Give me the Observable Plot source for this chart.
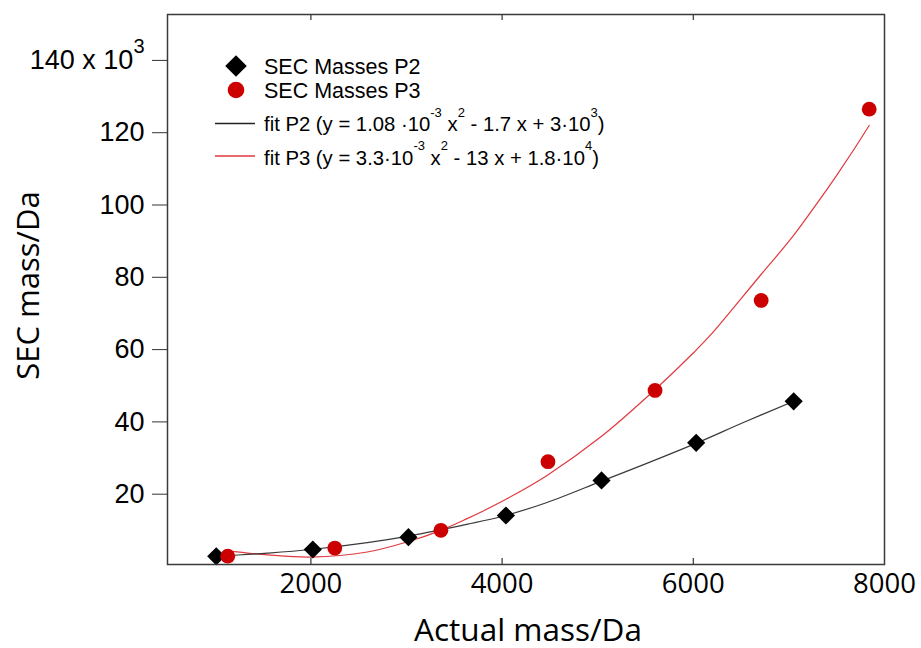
<!DOCTYPE html>
<html><head><meta charset="utf-8">
<script src="https://cdn.jsdelivr.net/npm/d3@7"></script>
<script src="https://cdn.jsdelivr.net/npm/@observablehq/plot@0.6"></script>
<style>
html,body{margin:0;padding:0;background:#fff;}
#chart{position:relative;width:921px;height:648px;}
</style></head><body><div id="chart"></div>
<script>
// SEC masses (Da)
const p2Mass = [1010, 2020, 3020, 4040, 5040, 6030, 7050];
const p2Sec  = [2800, 4700, 8100, 14100, 23800, 34200, 45700];
const p3Mass = [1130, 2250, 3360, 4480, 5600, 6710, 7840];
const p3Sec  = [2850, 5100, 10000, 29000, 48700, 73600, 126500];
// fitted curves
const fitP2Mass = [1005, 1546, 2000, 2590, 3020, 3640, 4005, 4470, 5040, 5520, 6040, 6530, 7050];
const fitP2Sec  = [2800, 3700, 4700, 6600, 8400, 11700, 13900, 17700, 23600, 28600, 34200, 39900, 45700];
const fitP3Mass = [1110, 1550, 2000, 2590, 3020, 3360, 3640, 3775, 4055, 4470, 5030, 5590, 6005, 6200, 6700, 7020, 7260, 7505, 7840];
const fitP3Sec  = [4400, 3200, 2600, 4000, 6900, 10000, 13300, 15000, 18800, 25200, 35800, 48700, 59200, 64600, 80500, 90600, 99200, 108400, 122000];
const xTicks = [2000, 4000, 6000, 8000];
const yTicks = [20000, 40000, 60000, 80000, 100000, 120000, 140000];
const legendLabels = ["SEC Masses P2", "SEC Masses P3"];
const fitLabels = [
  [["fit P2 (y = 1.08 ·10", 0], ["-3", 1], [" x", 0], ["2", 1], [" - 1.7 x + 3·10", 0], ["3", 1], [")", 0]],
  [["fit P3 (y = 3.3·10", 0], ["-3", 1], [" x", 0], ["2", 1], [" - 13 x + 1.8·10", 0], ["4", 1], [")", 0]]
];
const xTitle = "Actual mass/Da";
const yTitle = "SEC mass/Da";

const toRows = (xs, ys) => xs.map((x, i) => ({x, y: ys[i]}));
const P2 = toRows(p2Mass, p2Sec), P3 = toRows(p3Mass, p3Sec);
const F2 = toRows(fitP2Mass, fitP2Sec), F3 = toRows(fitP3Mass, fitP3Sec);

const chart = Plot.plot({
  width: 921, height: 648,
  marginLeft: 167, marginRight: 37, marginTop: 14, marginBottom: 84,
  style: {fontFamily: "'Liberation Sans', Arial, sans-serif", background: "white", color: "black"},
  x: {domain: [500, 8000]},
  y: {domain: [550, 152700]},
  marks: [
    Plot.axisY(yTicks, {tickSize: 15, tickPadding: 8, fontSize: 27, stroke: "#333", fill: "black",
      fontFamily: "'Liberation Sans', Arial, sans-serif", label: null,
      tickFormat: d => d === 140000 ? "140 x 10" : String(d / 1000)}),
    Plot.axisX(xTicks, {tickSize: 0, tickPadding: 9, fontSize: 27.5, fill: "black",
      fontFamily: "'Open Sans', sans-serif", label: null, tickFormat: d => String(d)}),
    Plot.ruleX(xTicks.slice(0, 3), {insetTop: 544, stroke: "#333", strokeWidth: 1.2}),
    Plot.ruleX(xTicks.slice(0, 3), {insetBottom: 544, stroke: "#333", strokeWidth: 1.2}),
    Plot.line(F3, {x: "x", y: "y", stroke: "#e0393e", strokeWidth: 1.2, curve: "catmull-rom"}),
    Plot.line(F2, {x: "x", y: "y", stroke: "#3a3a3a", strokeWidth: 1.2, curve: "catmull-rom"}),
    Plot.dot(P2, {x: "x", y: "y", symbol: "diamond2", r: 8.2, fill: "black", stroke: "none"}),
    Plot.dot(P3, {x: "x", y: "y", r: 7.4, fill: "#cc0000", stroke: "none"}),
    Plot.frame({stroke: "#3a3a3a", strokeWidth: 1.5}),
    Plot.text([xTitle], {frameAnchor: "bottom", textAnchor: "middle", dx: 2, dy: 76, lineAnchor: "bottom",
      fontSize: 31.5, fontFamily: "'Open Sans', sans-serif", fill: "black"}),
    Plot.text([yTitle], {frameAnchor: "left", textAnchor: "middle", dx: -128.5, dy: -4, rotate: -90, lineAnchor: "bottom",
      fontSize: 31, fontFamily: "'Open Sans', sans-serif", fill: "black"})
  ]
});
document.getElementById("chart").appendChild(chart);

// superscript on the top y tick label
d3.select(chart).selectAll("text").each(function() {
  if (this.textContent === "140 x 10") {
    d3.select(this).append("tspan").attr("dy", -16.5).attr("font-size", 20).text("3");
  }
});

// legend inside the plot
const svg = d3.select(chart);
const lg = svg.append("g").attr("font-family", "'Liberation Sans', Arial, sans-serif")
  .attr("font-size", 21.5).attr("fill", "black").attr("text-anchor", "start");
lg.append("path").attr("transform", "translate(236,66)")
  .attr("d", d3.symbol(d3.symbolDiamond2, 297)()).attr("fill", "black");
lg.append("circle").attr("cx", 236).attr("cy", 90).attr("r", 8.3).attr("fill", "#cc0000");
lg.append("text").attr("x", 264).attr("y", 73.5).text(legendLabels[0]);
lg.append("text").attr("x", 264).attr("y", 97.5).text(legendLabels[1]);
lg.append("line").attr("x1", 215).attr("x2", 255).attr("y1", 123.5).attr("y2", 123.5)
  .attr("stroke", "#222").attr("stroke-width", 1.3);
lg.append("line").attr("x1", 215).attr("x2", 255).attr("y1", 156).attr("y2", 156)
  .attr("stroke", "#e0393e").attr("stroke-width", 1.3);
[131, 164.5].forEach((yb, k) => {
  const t = lg.append("text").attr("x", 264).attr("y", yb).attr("font-size", 20.3);
  let raised = false;
  fitLabels[k].forEach(([s, sup]) => {
    const sp = t.append("tspan").text(s);
    if (sup && !raised) { sp.attr("dy", -14.5).attr("font-size", 13); raised = true; }
    else if (!sup && raised) { sp.attr("dy", 14.5); raised = false; }
    else if (sup) sp.attr("font-size", 13);
  });
});
</script>
</body></html>
